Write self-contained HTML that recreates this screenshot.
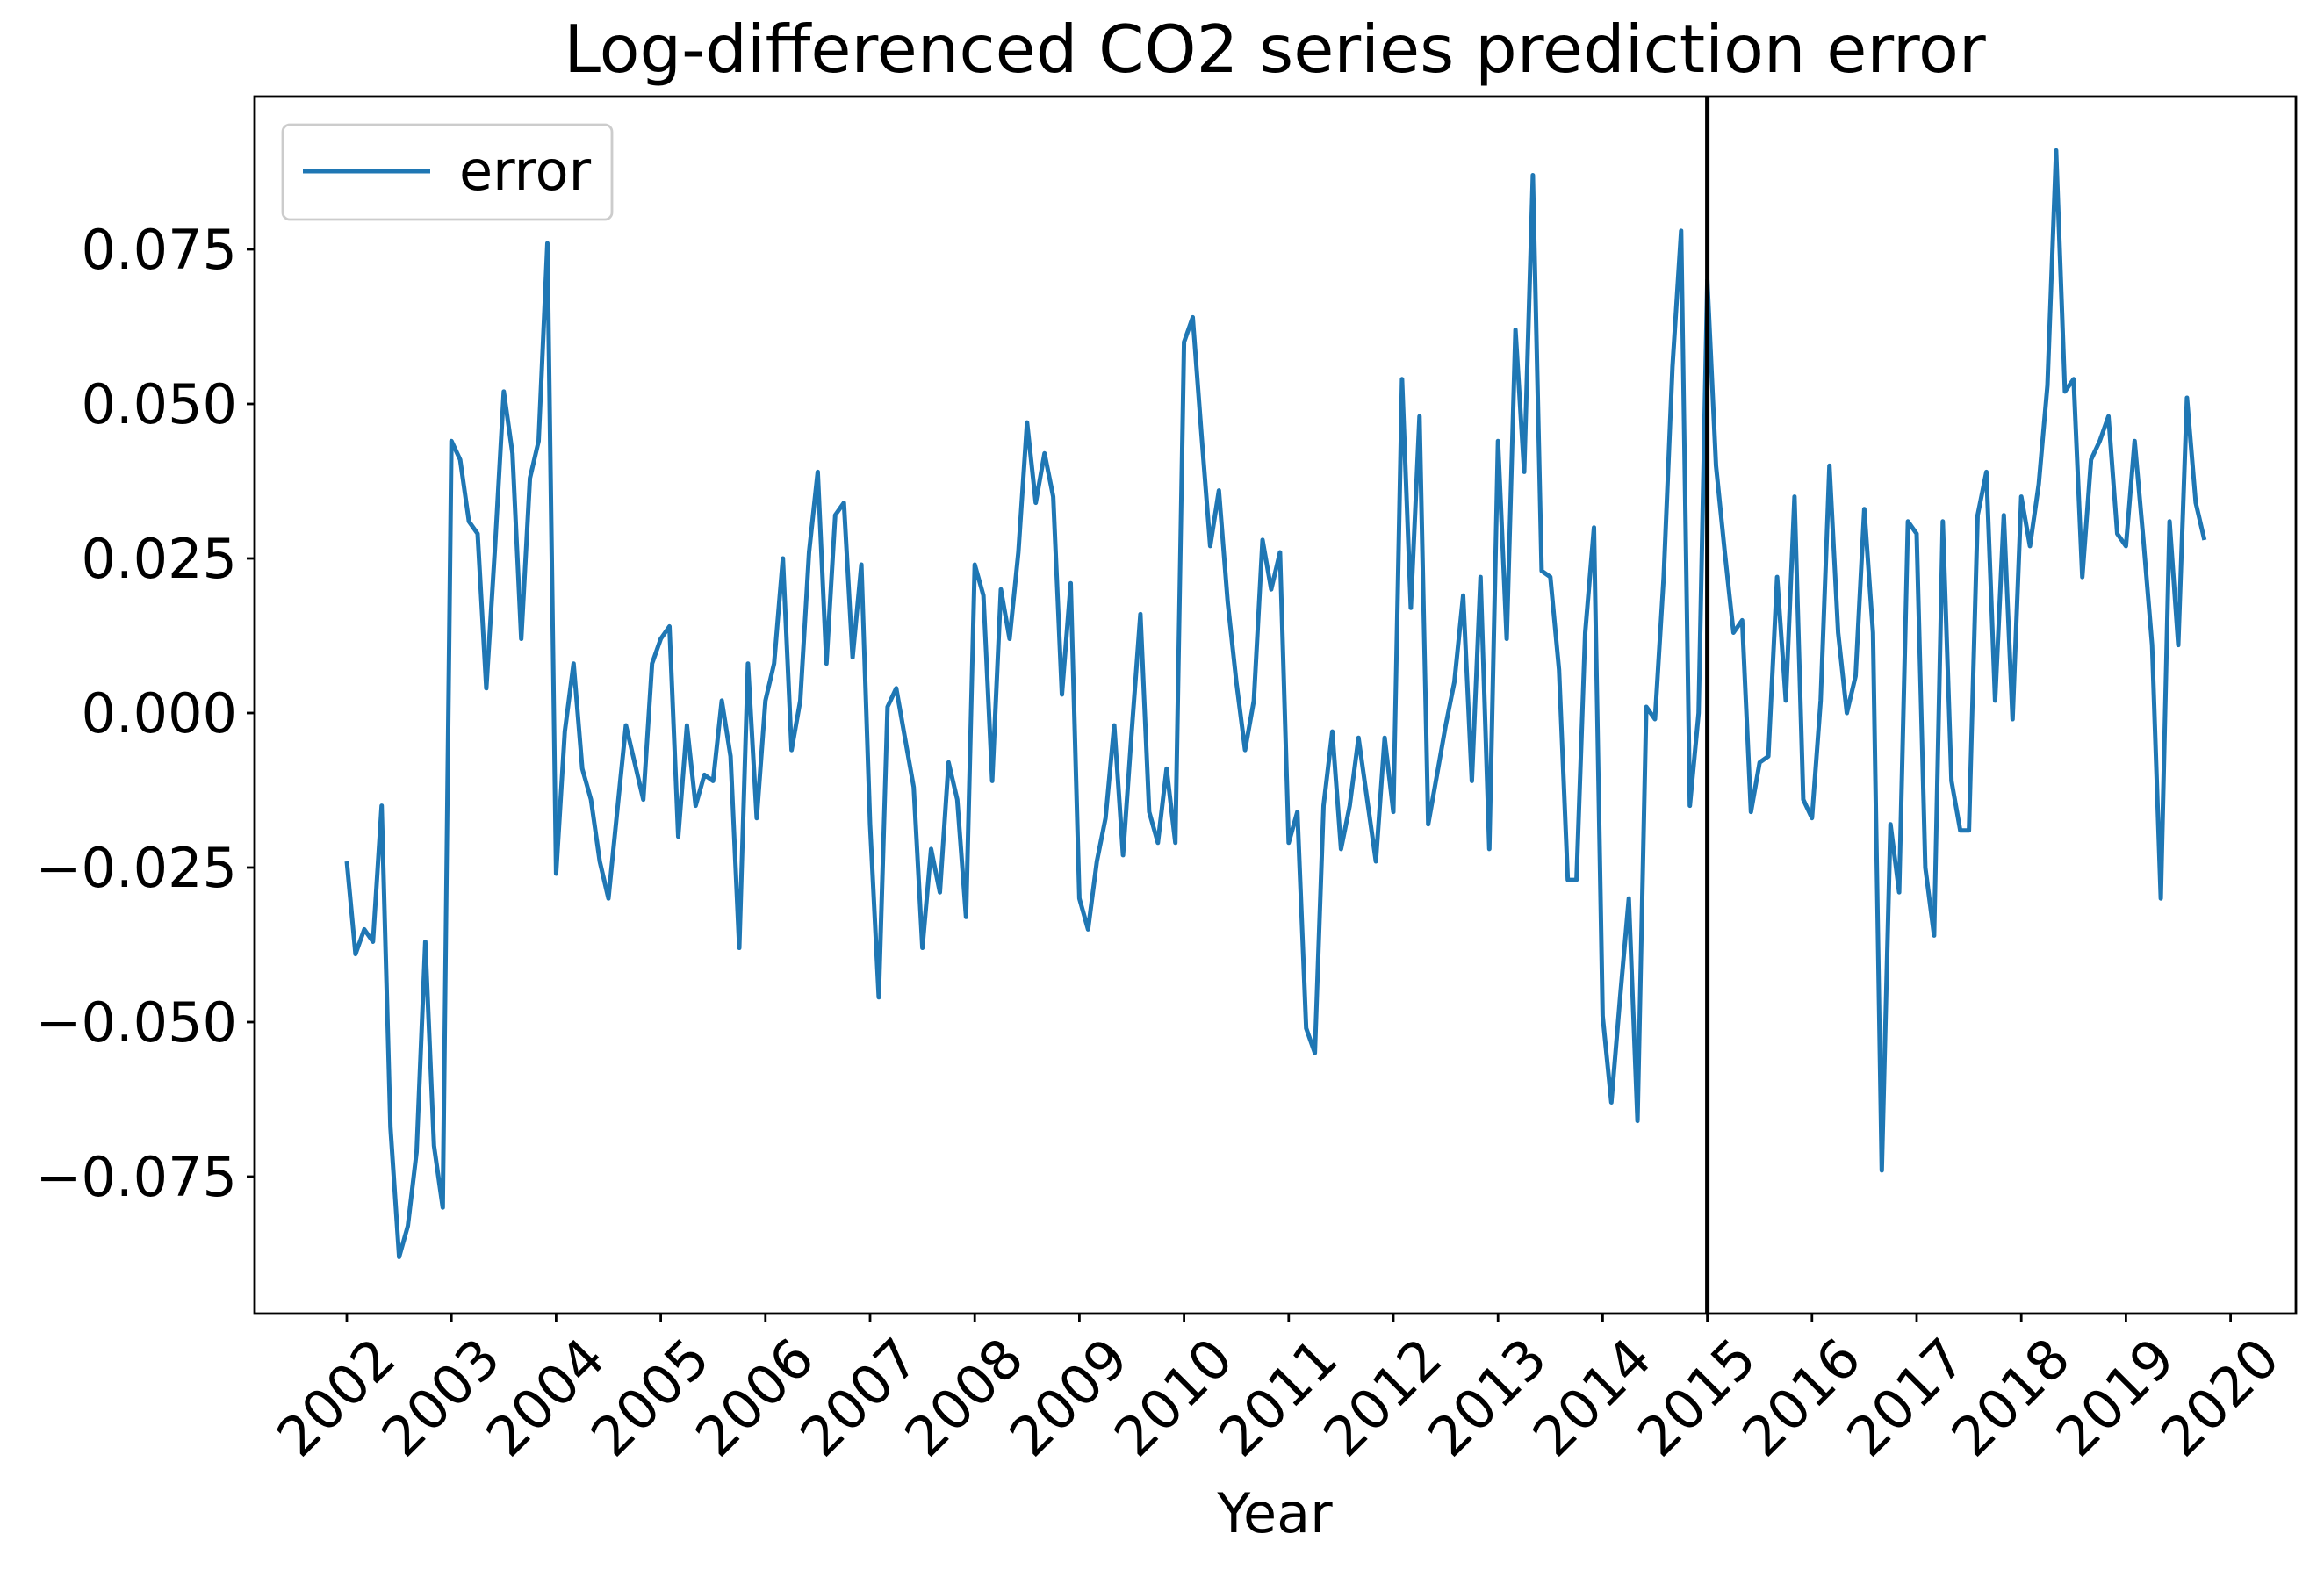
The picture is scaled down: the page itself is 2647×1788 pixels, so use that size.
<!DOCTYPE html>
<html><head><meta charset="utf-8">
<style>
html,body{margin:0;padding:0;background:#fff;}
svg{display:block;font-family:"DejaVu Sans","Liberation Sans",sans-serif;}
</style></head>
<body>
<svg id="chart" width="2647" height="1788" viewBox="0 0 2647 1788" xmlns="http://www.w3.org/2000/svg">
<rect width="2647" height="1788" fill="#fff"/>
<text x="1452" y="82" font-size="75" text-anchor="middle" fill="#000">Log-differenced CO2 series prediction error</text>
<g id="ticks"></g>
<polyline id="line" fill="none" stroke="#1f77b4" stroke-width="5" stroke-linejoin="round"/>
<line id="vline" stroke="#000" stroke-width="5"/>
<rect x="290" y="110" width="2325" height="1386" fill="none" stroke="#000" stroke-width="2.8"/>
<g>
<rect x="322" y="142" width="375" height="108" rx="8" fill="#fff" stroke="#ccc" stroke-width="2.8"/>
<line x1="345" y1="195" x2="490" y2="195" stroke="#1f77b4" stroke-width="5"/>
<text x="523" y="216" font-size="62" fill="#000">error</text>
</g>
<text x="1452" y="1745" font-size="62" text-anchor="middle" fill="#000">Year</text>
</svg>
<script>
const startYear = 2002;
const errorValues = [
-0.024,-0.039,-0.035,-0.037,-0.015,-0.067,-0.088,-0.083,-0.071,-0.037,-0.070,-0.080,
0.044,0.041,0.031,0.029,0.004,0.027,0.052,0.042,0.012,0.038,0.044,0.076,
-0.026,-0.003,0.008,-0.009,-0.014,-0.024,-0.030,-0.016,-0.002,-0.008,-0.014,0.008,
0.012,0.014,-0.020,-0.002,-0.015,-0.010,-0.011,0.002,-0.007,-0.038,0.008,-0.017,
0.002,0.008,0.025,-0.006,0.002,0.026,0.039,0.008,0.032,0.034,0.009,0.024,
-0.018,-0.046,0.001,0.004,-0.004,-0.012,-0.038,-0.022,-0.029,-0.008,-0.014,-0.033,
0.024,0.019,-0.011,0.020,0.012,0.026,0.047,0.034,0.042,0.035,0.003,0.021,
-0.030,-0.035,-0.024,-0.017,-0.002,-0.023,-0.003,0.016,-0.016,-0.021,-0.009,-0.021,
0.060,0.064,0.045,0.027,0.036,0.018,0.005,-0.006,0.002,0.028,0.020,0.026,
-0.021,-0.016,-0.051,-0.055,-0.015,-0.003,-0.022,-0.015,-0.004,-0.014,-0.024,-0.004,
-0.016,0.054,0.017,0.048,-0.018,-0.010,-0.002,0.005,0.019,-0.011,0.022,-0.022,
0.044,0.012,0.062,0.039,0.087,0.023,0.022,0.007,-0.027,-0.027,0.013,0.030,
-0.049,-0.063,-0.046,-0.030,-0.066,0.001,-0.001,0.022,0.056,0.078,-0.015,0.000,
0.070,0.040,0.026,0.013,0.015,-0.016,-0.008,-0.007,0.022,0.002,0.035,-0.014,
-0.017,0.002,0.040,0.013,0.000,0.006,0.033,0.013,-0.074,-0.018,-0.029,0.031,
0.029,-0.025,-0.036,0.031,-0.011,-0.019,-0.019,0.032,0.039,0.002,0.032,-0.001,
0.035,0.027,0.037,0.053,0.091,0.052,0.054,0.022,0.041,0.044,0.048,0.029,
0.027,0.044,0.028,0.011,-0.030,0.031,0.011,0.051,0.034,0.028
];
const yTicks = [-0.075,-0.05,-0.025,0,0.025,0.05,0.075];
const yTickLabels = ["\u22120.075","\u22120.050","\u22120.025","0.000","0.025","0.050","0.075"];
const xTicks = [2002,2003,2004,2005,2006,2007,2008,2009,2010,2011,2012,2013,2014,2015,2016,2017,2018,2019,2020];
const splitYear = 2015;

const x = yr => 395 + (yr - 2002) * 119.2;
const y = v => 812 - v / 0.025 * 176;
const NS = "http://www.w3.org/2000/svg";
const g = document.getElementById('ticks');
yTicks.forEach((v,i)=>{
  const t = document.createElementNS(NS,'line');
  t.setAttribute('x1',281);t.setAttribute('x2',290);t.setAttribute('y1',y(v));t.setAttribute('y2',y(v));
  t.setAttribute('stroke','#000');t.setAttribute('stroke-width',2.8);
  
  
  g.appendChild(t);
  const l = document.createElementNS(NS,'text');
  l.setAttribute('x',270);l.setAttribute('y',y(v)+22);l.setAttribute('text-anchor','end');l.setAttribute('font-size',62);
  l.textContent = yTickLabels[i];
  
  
  g.appendChild(l);
});
xTicks.forEach(yr=>{
  const t = document.createElementNS(NS,'line');
  t.setAttribute('x1',x(yr));t.setAttribute('x2',x(yr));t.setAttribute('y1',1496);t.setAttribute('y2',1505);
  t.setAttribute('stroke','#000');t.setAttribute('stroke-width',2.8);
  
  
  g.appendChild(t);
  const l = document.createElementNS(NS,'text');
  const lx = x(yr)+26, ly = 1518;
  l.setAttribute('x',lx);l.setAttribute('y',ly);l.setAttribute('text-anchor','end');l.setAttribute('font-size',62);
  l.setAttribute('dominant-baseline','hanging');
  l.setAttribute('transform','rotate(-45 '+lx+' '+ly+')');
  l.textContent = yr;
  
  
  g.appendChild(l);
});
document.getElementById('line').setAttribute('points',
  errorValues.map((v,i)=>x(startYear + i/12).toFixed(1)+','+y(v).toFixed(1)).join(' '));
const vl = document.getElementById('vline');
vl.setAttribute('x1',x(splitYear));vl.setAttribute('x2',x(splitYear));vl.setAttribute('y1',110);vl.setAttribute('y2',1496);
</script>
</body></html>
